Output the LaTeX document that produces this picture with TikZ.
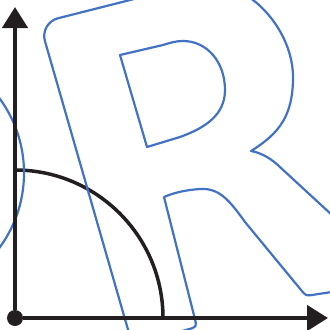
\documentclass[tikz,border=0pt]{standalone}
\usepackage{xcolor}
\usepackage{tikz}
\usetikzlibrary{arrows.meta}
\definecolor{pretoeixo}{RGB}{35,31,32}
\definecolor{azulletra}{RGB}{66,114,196}
\tikzset{
  eixo/.style={line width=1.35mm,draw=pretoeixo,-{Triangle[length=6.3mm,width=7.5mm]}},
  arco/.style={line width=1.05mm,draw=pretoeixo},
  origem/.style={circle,fill=pretoeixo,minimum size=4.8mm,inner sep=0pt},
  contorno/.style={line width=0.66mm,draw=azulletra,line join=round}
}
\begin{document}
\begin{tikzpicture}[x=0.03cm,y=-0.03cm]
\useasboundingbox (0,0) rectangle (330,330);
\clip (0,0) rectangle (330,330);
\coordinate (topo) at (15,7);
\coordinate (direita) at (328,318);
\coordinate (raio) at (15,170);
\draw[arco] (raio) arc[start angle=270,end angle=360,radius=148];
\draw[contorno] (-102,173) circle[radius=126];
\draw[contorno] (132.3,344.5) [rounded corners=5.7mm] -- (39.7,22.9) -- (170,-10.1) [sharp corners]
  .. controls (205,-19) and (235,-13) .. (253,0)
  .. controls (273,15) and (293,45) .. (293,77)
  .. controls (293,115) and (280,133) .. (251,151)
  .. controls (262,153) and (272,159) .. (281,168)
  -- (345,227) -- (345,290) -- (313.9,294.7) .. controls (306,296) .. (300.9,289.8)
  -- (245,222) .. controls (228,198) and (218,188) .. (200,189)
  .. controls (185,190) and (173,193) .. (164,197)
  -- (194.5,317.3) .. controls (197,327) .. (187.3,329.6) -- cycle;
\draw[contorno] (120,55) -- (147,147) -- (180,137)
  .. controls (205,128) and (225,115) .. (225,90)
  .. controls (225,62) and (207,41) .. (183,41)
  .. controls (176,41) and (171,42.5) .. (163,45) -- cycle;
\node[origem] (O) at (15,318) {};
\draw[eixo] (O) -- (topo);
\draw[eixo] (O) -- (direita);
\end{tikzpicture}
\end{document}
